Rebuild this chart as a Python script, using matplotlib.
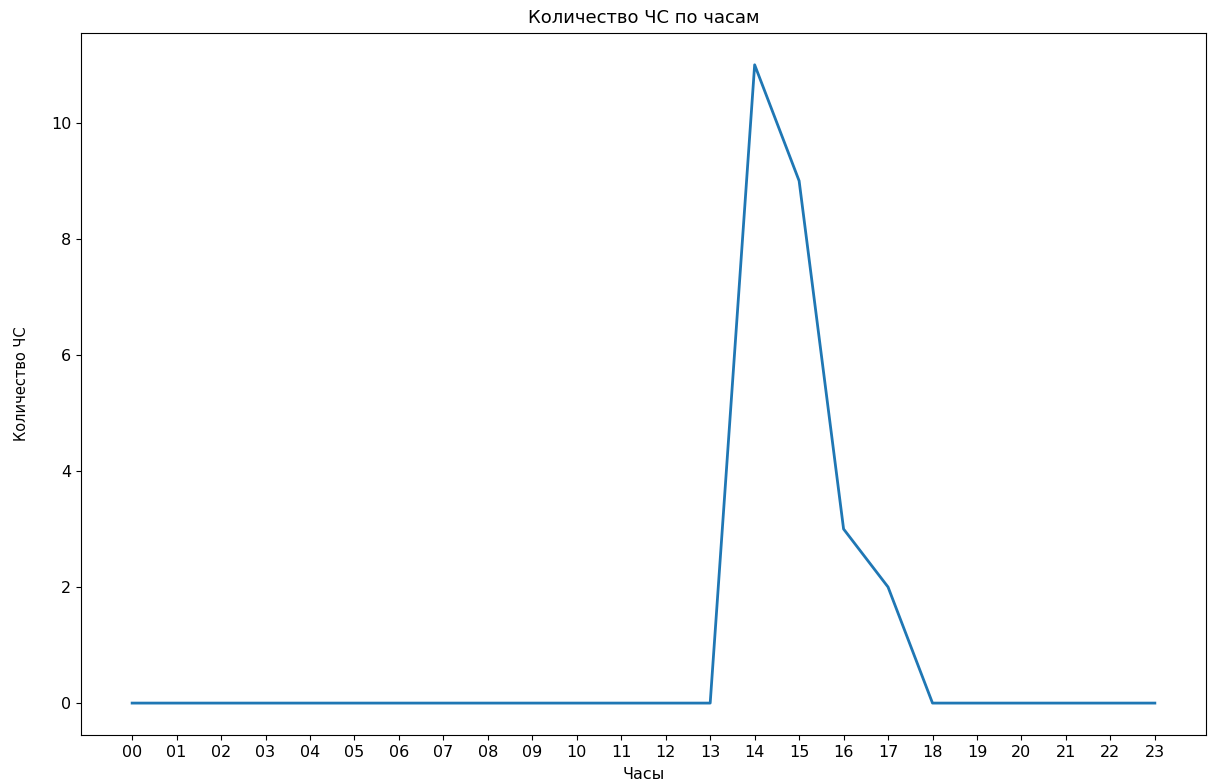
import matplotlib
matplotlib.use("Agg")
import matplotlib.pyplot as plt

hours = ["00", "01", "02", "03", "04", "05", "06", "07", "08", "09", "10", "11",
         "12", "13", "14", "15", "16", "17", "18", "19", "20", "21", "22", "23"]
counts = [0, 0, 0, 0, 0, 0, 0, 0, 0, 0, 0, 0, 0, 0, 11, 9, 3, 2, 0, 0, 0, 0, 0, 0]

plt.rcParams['font.family'] = ['DejaVu Sans']
fig = plt.figure(figsize=(12.09, 7.83), dpi=100)
ax = fig.add_axes([0.067, 0.0613, 0.9305, 0.8967])
ax.plot(hours, counts, color="#1f77b4", linewidth=2)
ax.set_title("Количество ЧС по часам", fontsize=13, pad=7)
ax.set_xlabel("Часы", fontsize=11.5, labelpad=5)
ax.set_ylabel("Количество ЧС", fontsize=10.5, labelpad=16)
ax.tick_params(labelsize=11.5)
ax.set_yticks([0, 2, 4, 6, 8, 10])
fig.savefig("out.png", dpi=100)
